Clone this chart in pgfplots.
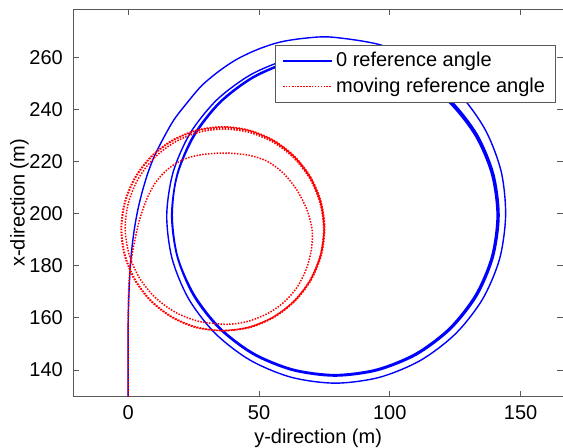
\documentclass[border=0pt]{standalone}
\usepackage{fontspec}
\setmainfont{Liberation Sans}
\usepackage{pgfplots}
\pgfplotsset{compat=1.18}
\definecolor{mblue}{rgb}{0,0,1}
\definecolor{mred}{rgb}{1,0,0}
\definecolor{axgray}{gray}{0.35}
\begin{document}
\begin{tikzpicture}
\useasboundingbox (-36.65pt,-25.65pt) rectangle (245pt,198.35pt);
\begin{axis}[
  scale only axis, width=245pt, height=193.7pt,
  xmin=-21, xmax=166.2, ymin=129.8, ymax=278.4,
  xtick={0,50,100,150}, ytick={140,160,180,200,220,240,260},
  /pgf/number format/assume math mode=true,
  tick align=inside, major tick length=2.8pt,
  axis line style={axgray}, every tick/.style={axgray, line width=0.4pt},
  xlabel={y-direction (m)}, ylabel={x-direction (m)},
  every axis x label/.style={at={(axis description cs:0.5,-0.1074)}, anchor=center},
  every axis y label/.style={at={(axis description cs:-0.1098,0.5)}, anchor=center, rotate=90},
  xticklabel style={yshift=-0.9pt},
  yticklabel style={xshift=-1.7pt},
  legend style={at={(axis description cs:1,1)}, anchor=north east, xshift=-3.8pt, yshift=-17.85pt,
    draw=axgray, fill=white, inner xsep=3.3pt, inner ysep=1.5pt,
    nodes={inner xsep=1.7pt, inner ysep=2pt}},
  legend cell align=left,
  legend image code/.code={\draw[#1] plot coordinates {(0pt,0pt) (12.25pt,0pt) (24.5pt,0pt)};},
]
\addplot[color=mblue, line width=0.7pt, smooth] coordinates {
(0,125) (0,140) (0,150) (0,158) (0.15,165) (0.4,172) (0.8,180) (1.5,187.5) (2.5,195) (3.8,202) (5.4,208.5) (7.5,215.5) (10,222) (13.5,229) (17.5,236) (22.5,242.5) (28,249) (34.5,254.5) (41.5,259.2) (49.5,263) (58,265.8) (67.5,267.3) (78,267.7)
(96.77,264.64) (112.95,257.25) (126.47,246.1) (136.55,232.05) (142.58,216.1) (144.27,199.3) (141.98,182.66) (135.47,167.17) (125.11,153.85) (111.64,143.59) (95.91,137.11) (79,134.91) (62.12,137.23) (46.49,143.8) (33.16,154.11) (23.01,167.44) (16.74,182.85) (14.73,199.3)
(17.1,215.65) (23.66,230.79) (33.95,243.7) (47.24,253.52) (62.61,259.59) (79,261.54) (95.33,259.35) (110.51,253.09) (123.52,243.18) (133.47,230.3) (139.69,215.33) (141.77,199.3) (139.57,183.3) (133.31,168.4) (123.3,155.64) (110.32,145.83) (95.2,139.72) (79,137.62) (62.82,139.78) (47.74,145.93) (34.84,155.77) (24.91,168.52) (18.73,183.38) (16.6,199.3)
(18.73,215.22) (24.96,230.05) (34.88,242.79) (47.8,252.56) (62.85,258.7) (79,260.8) (95.15,258.7) (110.2,252.56) (123.12,242.79) (133.04,230.05) (139.27,215.22) (141.4,199.3) (139.27,183.38) (133.04,168.55) (123.12,155.81) (110.2,146.04) (95.15,139.9) (79,137.8) (62.85,139.9) (47.8,146.04) (34.88,155.81) (24.96,168.55) (18.73,183.38) (16.6,199.3)
(18.9,215.1) (25.3,229.8) (35.2,242.5) (48.0,252.2) (62.95,258.3) (79,260.4) (95.05,258.3) (110.0,252.2) (122.8,242.5) (132.7,229.8) (138.9,215.1) (141.0,199.3) (138.9,183.5) (132.7,168.8) (122.8,156.1) (110.0,146.4) (95.05,140.3) (79,138.2) (62.95,140.3) (48.0,146.4) (35.2,156.1) (25.3,168.8) (18.9,183.5) (16.85,199.3)
(18.8,215.15) (25.1,229.9) (35.0,242.65) (47.9,252.4) (62.9,258.5) (79,260.6)
};
\addlegendentry{0 reference angle}
\addplot[color=mred, line width=0.75pt, smooth, dash pattern=on 0.75pt off 0.7pt] coordinates {
(0,125) (0,145) (0,160) (0.1,168) (0.4,175) (1,181) (1.8,186) (2.8,191) (3.9,196) (5.4,201) (7.5,206.5) (10.2,211.5) (13.5,215.5) (17.5,218.8) (22.5,221.3) (28,222.6) (33,223.1) (38.5,223.2) (46,222.4) (52.9,220.2) (59.3,215.5) (64.5,209) (68.3,201.5) (70.3,193.8) (70,186) (68,178.5) (64.6,171.8) (60,166.4) (54,162) (46,158.7) (37.6,157.5)
(26.78,158.69) (17.91,162.19) (10.2,167.9) (4.2,175.48) (0.32,184.41) (-1.15,194.1) (0.02,203.87) (3.66,213.03) (9.54,220.96) (17.3,227.09) (26.38,231.02) (36.2,232.44) (46.07,231.2) (55.3,227.43) (63.27,221.38) (69.41,213.42) (73.32,204.12) (74.71,194.1) (73.43,184.05) (69.61,174.66) (63.52,166.58) (55.53,160.36) (46.22,156.43) (36.2,155.1)
(26.18,156.43) (16.85,160.33) (8.83,166.52) (2.69,174.6) (-1.18,184.01) (-2.5,194.1) (-1.18,204.19) (2.69,213.6) (8.83,221.68) (16.85,227.87) (26.18,231.77) (36.2,233.1) (46.22,231.77) (55.55,227.87) (63.57,221.68) (69.71,213.6) (73.58,204.19) (74.9,194.1) (73.58,184.01) (69.71,174.6) (63.57,166.52) (55.55,160.33) (46.22,156.43) (36.2,155.1)
(26.12,156.2) (16.73,160.13) (8.67,166.36) (2.49,174.48) (-1.4,183.95) (-2.73,194.1) (-1.4,204.25) (2.49,213.72) (8.67,221.84) (16.73,228.07) (26.12,232.0) (36.2,233.33) (46.28,232.0) (55.67,228.07) (63.73,221.84) (69.91,213.72) (73.8,204.25) (75.13,194.1) (73.8,183.95) (69.91,174.48) (63.73,166.36) (55.67,160.13) (46.28,156.2) (36.2,154.87)
};
\addlegendentry{moving reference angle}
\end{axis}
\end{tikzpicture}
\end{document}
